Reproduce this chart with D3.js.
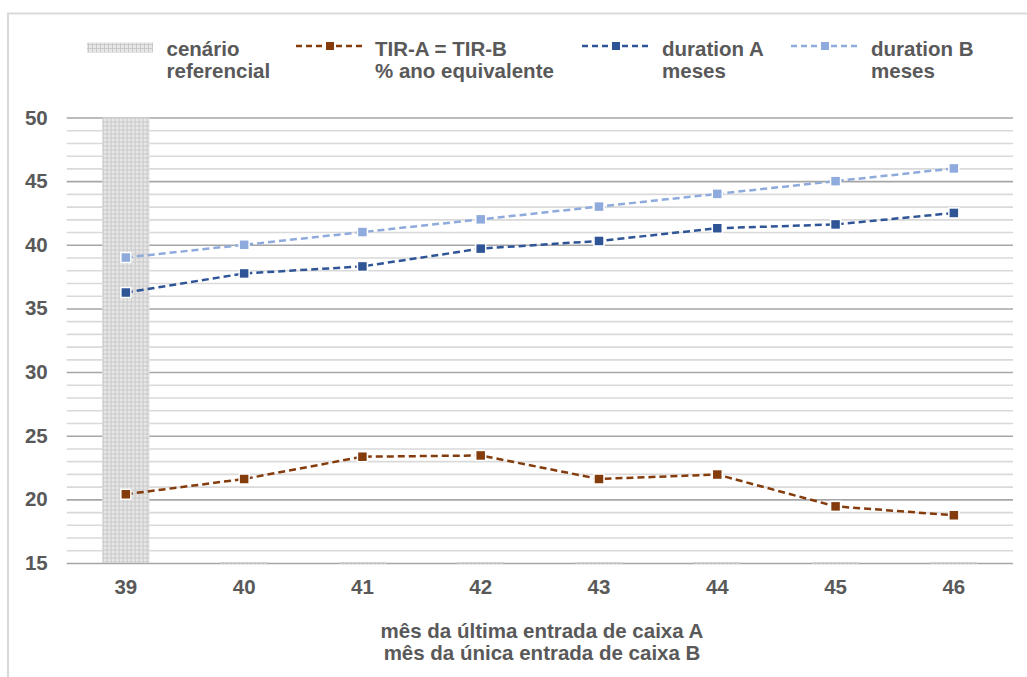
<!DOCTYPE html>
<html>
<head>
<meta charset="utf-8">
<script src="https://cdn.jsdelivr.net/npm/d3@7"></script>
<style>
    body { margin: 0; background: #fff; }
    svg { display: block; font-family: "Liberation Sans", Arial, sans-serif; font-weight: bold; }
</style>
</head>
<body>
<svg id="chart"></svg>
<script>
const categories = [39, 40, 41, 42, 43, 44, 45, 46];
const referencial = [50, 15, 15, 15, 15, 15, 15, 15];
const tir = [20.4, 21.6, 23.35, 23.45, 21.6, 21.95, 19.45, 18.75];
const durationA = [36.25, 37.75, 38.3, 39.7, 40.3, 41.3, 41.6, 42.5];
const durationB = [39, 40, 41, 42, 43, 44, 45, 46];
const yTicks = [15, 20, 25, 30, 35, 40, 45, 50];
const xTitle = ["mês da última entrada de caixa A", "mês da única entrada de caixa B"];

const series = [
    { name: ["TIR-A = TIR-B", "% ano equivalente"], values: tir, color: "#843c0c" },
    { name: ["duration A", "meses"], values: durationA, color: "#2f5597" },
    { name: ["duration B", "meses"], values: durationB, color: "#8faadc" }
];

class Chart {
    margin = { top: 117.5, right: 14, bottom: 114, left: 66.7 }

    constructor(svg, width = 1027, height = 677) {
        this.svg = d3.select(svg);
        this.width = width - this.margin.left - this.margin.right;
        this.height = height - this.margin.top - this.margin.bottom;
        this.svg.attr("width", width).attr("height", height);
    }

    draw() {
        const textColor = "#595959";
        const fontSize = 20.5;
        const svg = this.svg;

        // hatch pattern for the "cenário referencial" bar
        const pat = svg.append("defs").append("pattern")
            .attr("id", "hatch")
            .attr("patternUnits", "userSpaceOnUse")
            .attr("width", 4).attr("height", 4);
        pat.append("rect").attr("width", 4).attr("height", 4).attr("fill", "#e7e7e7");
        pat.append("path").attr("d", "M0,0.5H4M0.5,0V4")
            .attr("stroke", "#c9c9c9").attr("stroke-width", 1);

        // chart area border (only left and top visible)
        svg.append("rect")
            .attr("x", 8).attr("y", 13.5)
            .attr("width", 1200).attr("height", 800)
            .attr("fill", "none").attr("stroke", "#d9d9d9").attr("stroke-width", 2);

        const g = svg.append("g")
            .attr("transform", `translate(${this.margin.left}, ${this.margin.top})`);

        const x = d3.scaleBand().domain(categories).range([0, this.width]).padding(0);
        const y = d3.scaleLinear().domain([15, 50]).range([this.height, 0]);

        // minor gridlines
        g.append("g")
            .call(d3.axisLeft(y).tickValues(d3.range(16, 50, 1).filter(v => v % 5 != 0)).tickSize(-this.width).tickFormat(""))
            .call(a => a.select(".domain").remove())
            .selectAll("line").attr("stroke", "#d9d9d9").attr("stroke-width", 1.6);

        // major gridlines
        g.append("g")
            .call(d3.axisLeft(y).tickValues(yTicks).tickSize(-this.width).tickFormat(""))
            .call(a => a.select(".domain").remove())
            .selectAll("line").attr("stroke", "#a6a6a6").attr("stroke-width", 1.6);

        // bars
        const barW = x.bandwidth() * 0.4;
        g.selectAll(".bar")
            .data(categories)
            .join("rect")
            .attr("class", "bar")
            .attr("x", d => x(d) + (x.bandwidth() - barW) / 2)
            .attr("width", barW)
            .attr("y", (d, i) => Math.min(y(referencial[i]), this.height - 1))
            .attr("height", (d, i) => Math.max(this.height - y(referencial[i]), 1.5))
            .attr("fill", "url(#hatch)");

        // lines and markers
        const line = d3.line()
            .x((d, i) => x(categories[i]) + x.bandwidth() / 2)
            .y(d => y(d));

        series.forEach(s => {
            g.append("path")
                .datum(s.values)
                .attr("fill", "none")
                .attr("stroke", s.color)
                .attr("stroke-width", 2.5)
                .attr("stroke-dasharray", "7,4")
                .attr("d", line);

            g.selectAll(null)
                .data(s.values)
                .join("rect")
                .attr("x", (d, i) => x(categories[i]) + x.bandwidth() / 2 - 5)
                .attr("y", d => y(d) - 5)
                .attr("width", 10).attr("height", 10)
                .attr("fill", s.color)
                .attr("stroke", "#fff").attr("stroke-width", 1.5);
        });

        // y axis labels
        g.append("g")
            .attr("transform", "translate(-16, 0)")
            .call(d3.axisLeft(y).tickValues(yTicks).tickSize(0))
            .call(a => a.select(".domain").remove())
            .selectAll("text")
            .attr("fill", textColor).attr("font-size", fontSize).attr("font-family", null);

        // x axis labels
        g.append("g")
            .attr("transform", `translate(0, ${this.height + 13})`)
            .call(d3.axisBottom(x).tickSize(0))
            .call(a => a.select(".domain").remove())
            .selectAll("text")
            .attr("fill", textColor).attr("font-size", fontSize).attr("font-family", null);

        // x title
        svg.append("g").selectAll("text")
            .data(xTitle)
            .join("text")
            .attr("x", 542)
            .attr("y", (d, i) => 638 + i * 22)
            .attr("text-anchor", "middle")
            .attr("fill", textColor)
            .attr("font-size", fontSize)
            .text(d => d);

        // legend
        const legend = svg.append("g");
        legend.append("rect")
            .attr("x", 87).attr("y", 42.5).attr("width", 66).attr("height", 10)
            .attr("fill", "url(#hatch)");
        this.legendText(legend, 166.5, ["cenário", "referencial"], textColor, fontSize);

        const lx = [296, 582, 791];
        const tx = [375, 662, 871];
        series.forEach((s, i) => {
            legend.append("line")
                .attr("x1", lx[i]).attr("x2", lx[i] + 68)
                .attr("y1", 46).attr("y2", 46)
                .attr("stroke", s.color).attr("stroke-width", 2.5)
                .attr("stroke-dasharray", "6,4");
            legend.append("rect")
                .attr("x", lx[i] + 34 - 4).attr("y", 42)
                .attr("width", 8).attr("height", 8)
                .attr("fill", s.color);
            this.legendText(legend, tx[i], s.name, textColor, fontSize);
        });
    }

    legendText(sel, xPos, lines, color, size) {
        sel.append("g").selectAll("text")
            .data(lines)
            .join("text")
            .attr("x", xPos)
            .attr("y", (d, i) => 55.5 + i * 22.5)
            .attr("fill", color)
            .attr("font-size", size)
            .text(d => d);
    }
}

const chart = new Chart("#chart");
chart.draw();
</script>
</body>
</html>
